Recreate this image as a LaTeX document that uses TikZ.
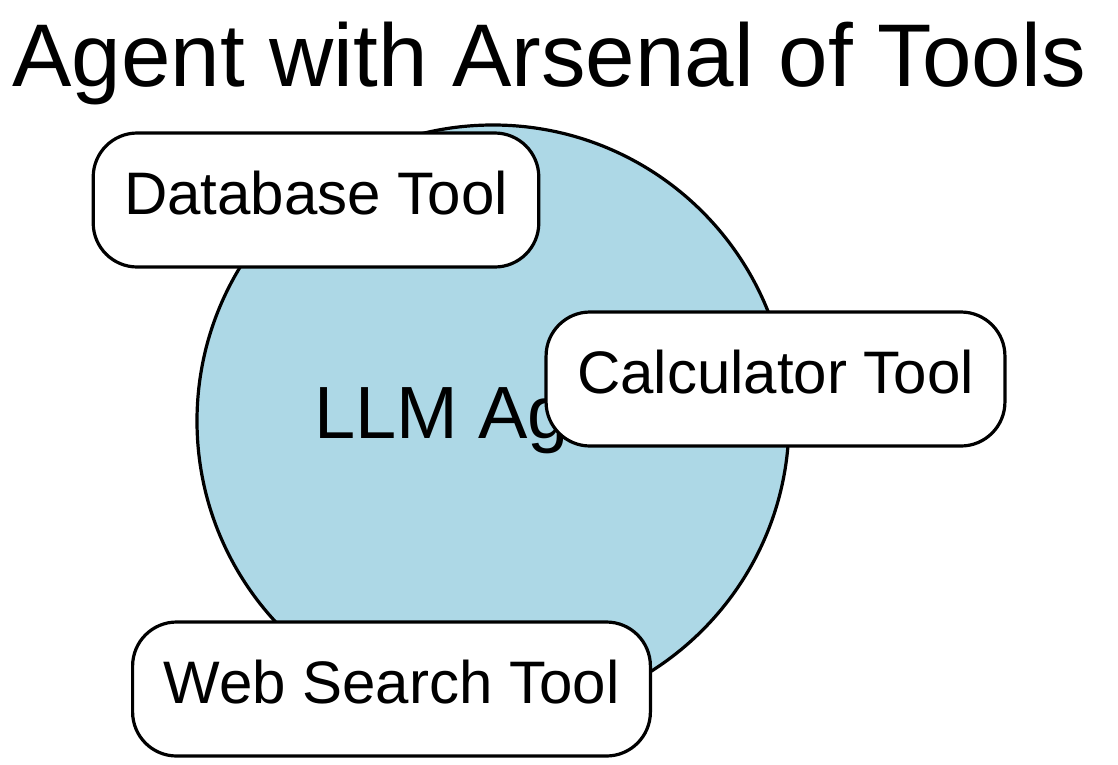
\documentclass[tikz,border=0pt]{standalone}
\usepackage{fontspec}
\setmainfont{Liberation Sans}
\usepackage{xcolor}
\usepackage{tikz}

\definecolor{agentblue}{HTML}{ADD8E6}

\begin{document}
\begin{tikzpicture}[
    x=1pt, y=-1pt,
    % Styles
    title/.style={
        anchor=base,
        inner sep=0pt,
        font=\fontsize{89}{100}\selectfont
    },
    agent/.style={
        circle,
        draw=black,
        line width=3.2pt,
        fill=agentblue,
        minimum size=592pt,
        inner sep=0pt,
        font=\fontsize{74}{80}\selectfont
    },
    tool/.style={
        rectangle,
        draw=black,
        line width=3.2pt,
        fill=white,
        rounded corners=44pt,
        inner xsep=31pt,
        inner ysep=0pt,
        text height=81pt,
        text depth=53pt,
        font=\fontsize{60}{66}\selectfont
    }
]
\useasboundingbox (0,0) rectangle (1118,764);

% --- Nodes ---

% Title
\node[title] (Title) at (549,86) {Agent with Arsenal of Tools};

% Center: the agent
\node[agent] (Agent) at (493,421) {LLM Agent};

% Tools laid over the agent
\node[tool] (Database) at (316,200) {Database Tool};
\node[tool] (Calculator) at (775.5,379) {Calculator Tool};
\node[tool] (WebSearch) at (391.5,689) {Web Search Tool};

\end{tikzpicture}
\end{document}
